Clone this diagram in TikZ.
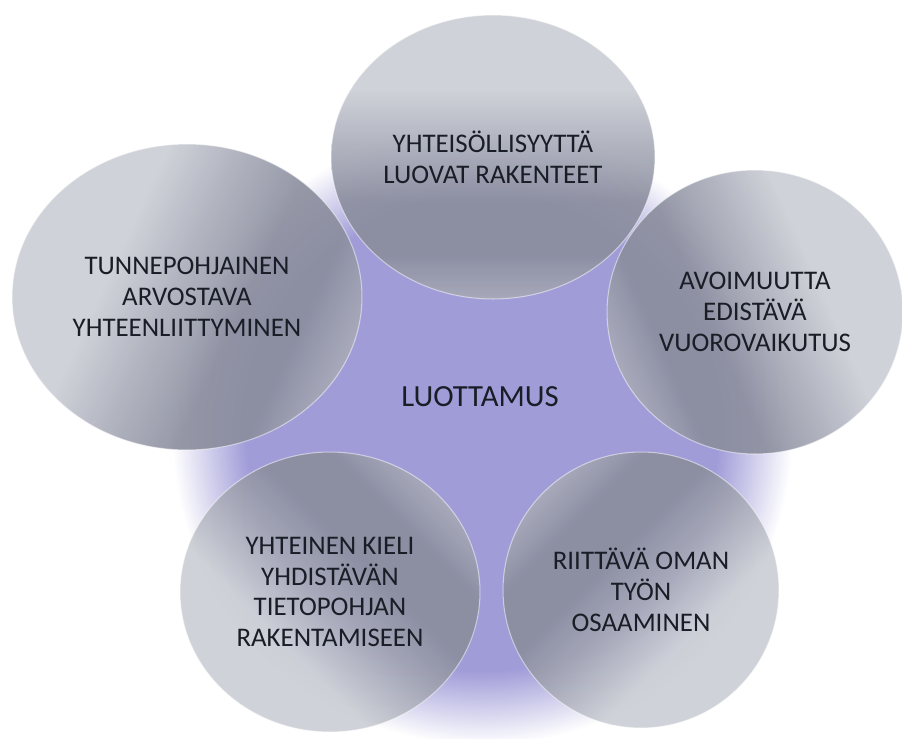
\documentclass[tikz,border=0pt]{standalone}
\usepackage{fontspec}
\setmainfont{Carlito}
\usetikzlibrary{shapes.geometric}
\definecolor{lav}{RGB}{160,156,216}
\definecolor{gLight}{RGB}{202,205,212}
\definecolor{gMid}{RGB}{168,171,184}
\definecolor{gDark}{RGB}{138,141,157}
\definecolor{ink}{RGB}{24,29,38}
\pgfdeclareverticalshading{globe}{100bp}{color(0bp)=(gMid); color(25bp)=(gMid); color(33bp)=(gDark); color(42bp)=(gDark); color(52bp)=(gMid); color(62bp)=(gLight); color(100bp)=(gLight)}
\pgfdeclareradialshading{halo}{\pgfpointorigin}{color(0bp)=(lav); color(19bp)=(lav); color(25bp)=(white); color(50bp)=(white)}
\begin{document}
\begin{tikzpicture}[x=0.02cm,y=-0.02cm,
    bubble/.style={ellipse,inner sep=0pt,shading=globe,fill opacity=.9,
      text opacity=1,draw=white,draw opacity=.5,line width=.6pt,
      font=\fontsize{15.3}{17.5}\selectfont,text=ink,align=center}]
  \useasboundingbox (0,0) rectangle (902,738);
  \shade[shading=halo] (482,435) circle[radius=310];
  \node[text=ink,font=\fontsize{17.5}{20}\selectfont] (luottamus) at (480,397) {LUOTTAMUS};
  % ympyrat myotapaivaan ylhaalta
  \node[bubble,minimum width=6.48cm,minimum height=5.68cm,shading angle=0]
    (yhteis) at (493,157) {YHTEISÖLLISYYTTÄ\\LUOVAT RAKENTEET};
  \node[bubble,minimum width=5.92cm,minimum height=5.68cm,shading angle=-66]
    (avoin) at (755,312) {AVOIMUUTTA\\EDISTÄVÄ\\VUOROVAIKUTUS};
  \node[bubble,minimum width=5.52cm,minimum height=5.52cm,shading angle=-135]
    (osaam) at (641,590) {RIITTÄVÄ OMAN\\TYÖN\\OSAAMINEN};
  \node[bubble,minimum width=6cm,minimum height=5.6cm,shading angle=135]
    (kieli) at (330,592) {YHTEINEN KIELI\\YHDISTÄVÄN\\TIETOPOHJAN\\RAKENTAMISEEN};
  \node[bubble,minimum width=7cm,minimum height=6.12cm,shading angle=65]
    (tunne) at (187,297) {TUNNEPOHJAINEN\\ARVOSTAVA\\YHTEENLIITTYMINEN};
\end{tikzpicture}
\end{document}
